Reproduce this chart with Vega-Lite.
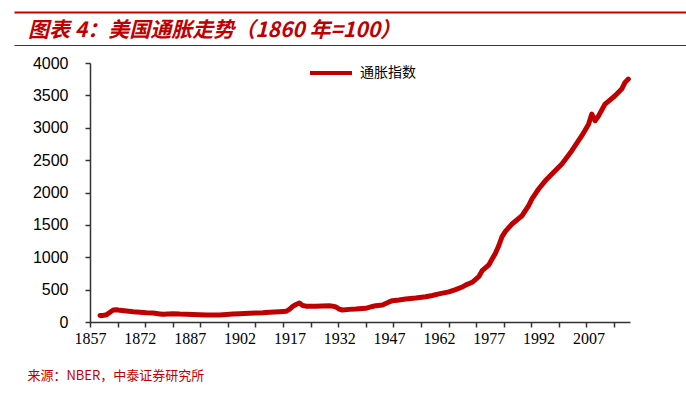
{
  "$schema": "https://vega.github.io/schema/vega-lite/v6.json",
  "padding": {"left": 14, "top": 12, "right": 0, "bottom": 0},
  "autosize": {"type": "pad"},
  "background": "white",
  "spacing": 5,
  "resolve": {"legend": {"color": "independent"}},
  "config": {"view": {"stroke": null}, "font": "Liberation Sans"},
  "vconcat": [
    {
      "width": 540,
      "height": 33,
      "data": {"values": [{"label": "图表 4：美国通胀走势（1860 年=100）"}]},
      "encoding": {"y": {"datum": 0, "type": "quantitative", "scale": {"domain": [-1, 1]}, "axis": null}},
      "layer": [
        {
          "mark": {"type": "text", "align": "left", "baseline": "middle", "dx": 14, "dy": 2, "font": "Noto Sans CJK SC", "fontSize": 21, "fontWeight": "bold", "fontStyle": "italic", "color": "#C00000"},
          "encoding": {
            "x": {"datum": 0, "type": "quantitative", "scale": {"domain": [0, 1], "range": [-76, 596]}, "axis": {"orient": "top", "title": null, "labels": false, "ticks": false, "grid": false, "domainColor": "#C00000", "domainWidth": 2}},
            "text": {"field": "label"}
          }
        },
        {
          "mark": {"type": "text", "opacity": 0},
          "encoding": {
            "x": {"datum": 0, "type": "quantitative", "axis": {"orient": "bottom", "title": null, "labels": false, "ticks": false, "grid": false, "domainColor": "#C00000", "domainWidth": 1}},
            "text": {"value": ""}
          }
        }
      ],
      "resolve": {"axis": {"x": "independent"}}
    },
    {
      "width": 540,
      "height": 259,
      "title": {"text": "来源：NBER，中泰证券研究所", "orient": "bottom", "anchor": "start", "frame": "bounds", "dx": -5, "offset": 24, "font": "Noto Sans CJK SC", "fontSize": 13, "fontWeight": "normal", "color": "#C00000"},
      "data": {"values": [
        {"year": 1860, "value": 100}, {"year": 1861, "value": 102}, {"year": 1862, "value": 113}, {"year": 1863, "value": 150},
        {"year": 1864, "value": 185}, {"year": 1865, "value": 190}, {"year": 1866, "value": 180}, {"year": 1868, "value": 170},
        {"year": 1870, "value": 158}, {"year": 1872, "value": 150}, {"year": 1874, "value": 142}, {"year": 1876, "value": 139},
        {"year": 1878, "value": 125}, {"year": 1879, "value": 119}, {"year": 1882, "value": 128}, {"year": 1884, "value": 122},
        {"year": 1886, "value": 119}, {"year": 1888, "value": 116}, {"year": 1890, "value": 113}, {"year": 1892, "value": 110},
        {"year": 1894, "value": 108}, {"year": 1896, "value": 110}, {"year": 1898, "value": 115}, {"year": 1900, "value": 122},
        {"year": 1902, "value": 128}, {"year": 1905, "value": 134}, {"year": 1907, "value": 139}, {"year": 1909, "value": 142},
        {"year": 1911, "value": 150}, {"year": 1914, "value": 158}, {"year": 1916, "value": 165}, {"year": 1917, "value": 195},
        {"year": 1918, "value": 240}, {"year": 1919, "value": 270}, {"year": 1920, "value": 293}, {"year": 1921, "value": 255},
        {"year": 1922, "value": 245}, {"year": 1925, "value": 242}, {"year": 1927, "value": 248}, {"year": 1929, "value": 252},
        {"year": 1930, "value": 245}, {"year": 1931, "value": 232}, {"year": 1932, "value": 200}, {"year": 1933, "value": 185},
        {"year": 1935, "value": 195}, {"year": 1937, "value": 200}, {"year": 1940, "value": 211}, {"year": 1942, "value": 240},
        {"year": 1943, "value": 252}, {"year": 1945, "value": 262}, {"year": 1947, "value": 310}, {"year": 1948, "value": 329},
        {"year": 1950, "value": 340}, {"year": 1952, "value": 355}, {"year": 1955, "value": 370}, {"year": 1958, "value": 390},
        {"year": 1960, "value": 410}, {"year": 1962, "value": 435}, {"year": 1965, "value": 465}, {"year": 1967, "value": 499},
        {"year": 1969, "value": 540}, {"year": 1970, "value": 570}, {"year": 1972, "value": 613}, {"year": 1974, "value": 700},
        {"year": 1975, "value": 792}, {"year": 1977, "value": 880}, {"year": 1978, "value": 973}, {"year": 1979, "value": 1060},
        {"year": 1980, "value": 1178}, {"year": 1981, "value": 1320}, {"year": 1982, "value": 1400}, {"year": 1984, "value": 1513},
        {"year": 1987, "value": 1641}, {"year": 1989, "value": 1796}, {"year": 1990, "value": 1900}, {"year": 1992, "value": 2054},
        {"year": 1994, "value": 2180}, {"year": 1996, "value": 2285}, {"year": 1999, "value": 2440}, {"year": 2002, "value": 2645},
        {"year": 2005, "value": 2877}, {"year": 2007, "value": 3050}, {"year": 2008, "value": 3212}, {"year": 2009, "value": 3108},
        {"year": 2010, "value": 3180}, {"year": 2012, "value": 3366}, {"year": 2015, "value": 3494}, {"year": 2017, "value": 3598},
        {"year": 2018, "value": 3700}, {"year": 2019, "value": 3752}
      ]},
      "encoding": {
        "y": {"field": "value", "type": "quantitative", "scale": {"domain": [0, 4000], "nice": false},
          "axis": {"values": [0, 500, 1000, 1500, 2000, 2500, 3000, 3500, 4000], "grid": false, "title": null, "labelFontSize": 16, "labelColor": "#000", "labelPadding": 17, "tickSize": 5, "tickColor": "#333", "tickWidth": 1.5, "domainColor": "#333", "domainWidth": 1.5, "format": "d"}}
      },
      "layer": [
        {
          "mark": {"type": "line", "strokeWidth": 5, "strokeJoin": "round", "strokeCap": "round"},
          "encoding": {
            "x": {"field": "year", "type": "quantitative", "scale": {"domain": [1857, 2019.5], "nice": false, "zero": false},
              "axis": {"orient": "bottom", "values": [1857, 1872, 1887, 1902, 1917, 1932, 1947, 1962, 1977, 1992, 2007], "ticks": false, "grid": false, "title": null, "format": "d", "labelFont": "Liberation Sans Narrow", "labelFontSize": 16, "labelColor": "#000", "labelPadding": 8, "domainColor": "#333", "domainWidth": 1.5, "labelFlush": false, "labelOverlap": false}},
            "color": {"datum": "通胀指数", "type": "nominal", "scale": {"range": ["#C00000"]},
              "legend": {"orient": "none", "legendX": 218, "legendY": -13, "title": null, "symbolType": "stroke", "symbolSize": 1764, "symbolStrokeWidth": 4, "labelFont": "Noto Sans CJK SC", "labelFontSize": 14, "labelColor": "#000", "labelOffset": 6, "padding": 0}}
          }
        },
        {
          "mark": {"type": "line", "opacity": 0},
          "encoding": {
            "x": {"field": "year", "type": "quantitative",
              "axis": {"orient": "bottom", "values": [1857, 1865.3, 1873.6, 1881.9, 1890.2, 1898.5, 1906.8, 1915.1, 1923.4, 1931.7, 1940, 1948.3, 1956.6, 1964.9, 1973.2, 1981.5, 1989.8, 1998.1, 2006.4, 2014.7], "labels": false, "domain": false, "grid": false, "title": null, "tickSize": 5, "tickColor": "#333", "tickWidth": 1.5}}
          }
        }
      ],
      "resolve": {"axis": {"x": "independent"}}
    }
  ]
}
